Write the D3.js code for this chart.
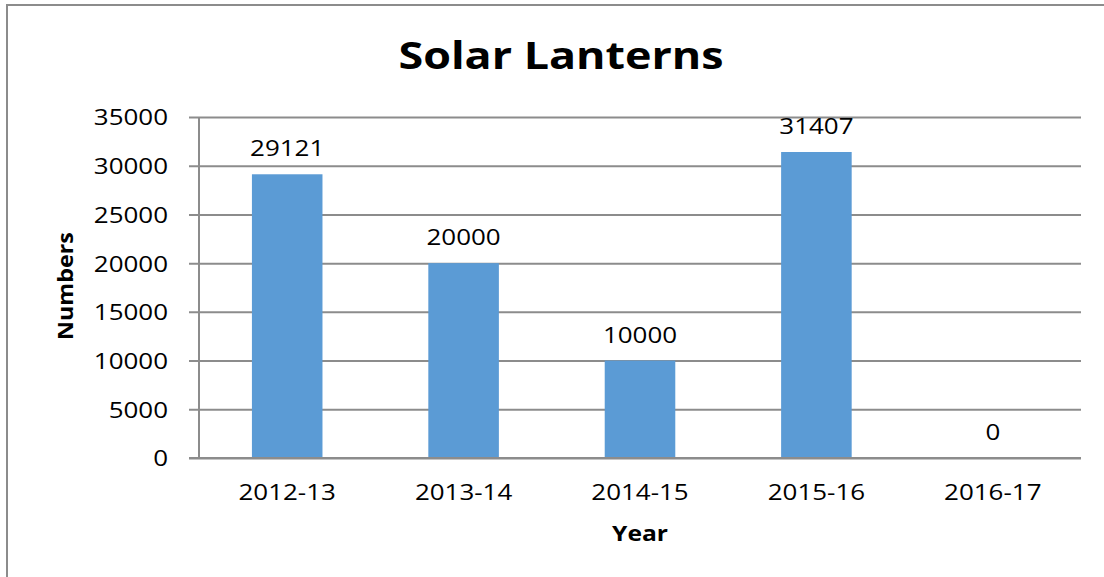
<!DOCTYPE html>
<html>
<head>
<meta charset="utf-8">
<script src="https://cdn.jsdelivr.net/npm/d3@7"></script>
<style>
  html, body { margin: 0; padding: 0; background: #fff; }
  svg { display: block; }
  text { font-family: "Open Sans", "DejaVu Sans", sans-serif; fill: #000; }
</style>
</head>
<body>
<svg id="chart" width="1104" height="577"></svg>
<script>
// Solar lanterns distributed per year
const years = ["2012-13", "2013-14", "2014-15", "2015-16", "2016-17"];
const lanterns = [29121, 20000, 10000, 31407, 0];
const yTicks = [0, 5000, 10000, 15000, 20000, 25000, 30000, 35000];

const W = 1104, H = 577;
const plot = { left: 199, right: 1081, top: 117, bottom: 458 };
const WIDE = 1.18; // horizontal stretch applied to the lettering
const svg = d3.select("#chart");

// outer chart frame (runs off the right and bottom edges)
svg.append("rect")
  .attr("x", 7).attr("y", 5)
  .attr("width", W + 20).attr("height", H + 20)
  .attr("fill", "#fff")
  .attr("stroke", "#8c8c8c").attr("stroke-width", 2);

const x = d3.scaleBand().domain(years).range([plot.left, plot.right]).paddingInner(0.6).paddingOuter(0.3);
const y = d3.scaleLinear().domain([0, 35000]).range([plot.bottom, plot.top]);

// horizontal gridlines with left ticks
const yAxis = d3.axisLeft(y).tickValues(yTicks).tickFormat(d3.format("d"))
  .tickSize(-(plot.right - plot.left));
const gy = svg.append("g").attr("transform", `translate(${plot.left},0)`).call(yAxis);
gy.select(".domain").remove();
gy.selectAll(".tick line")
  .attr("x1", -10)
  .attr("stroke", "#8c8c8c").attr("stroke-width", 2);
gy.selectAll(".tick text")
  .attr("font-size", 22).attr("x", 0).attr("dy", "0.36em")
  .attr("text-anchor", "end")
  .attr("transform", `translate(-31,0) scale(${WIDE},1)`);

// vertical axis line
svg.append("line")
  .attr("x1", plot.left).attr("x2", plot.left)
  .attr("y1", plot.top).attr("y2", plot.bottom)
  .attr("stroke", "#8c8c8c").attr("stroke-width", 2);

// category axis
const xAxis = d3.axisBottom(x).tickSize(0).tickPadding(0);
const gx = svg.append("g").attr("transform", `translate(0,${plot.bottom})`).call(xAxis);
gx.select(".domain").remove();
gx.selectAll(".tick text")
  .attr("font-size", 22).attr("y", 0).attr("dy", 0)
  .attr("transform", `translate(0,42) scale(${WIDE},1)`);

// bars
svg.append("g").selectAll("rect")
  .data(lanterns)
  .join("rect")
  .attr("x", (d, i) => x(years[i]))
  .attr("width", x.bandwidth())
  .attr("y", d => y(d))
  .attr("height", d => y(0) - y(d))
  .attr("fill", "#5b9bd5");

// baseline drawn over the bars
svg.append("line")
  .attr("x1", plot.left - 10).attr("x2", plot.right)
  .attr("y1", plot.bottom).attr("y2", plot.bottom)
  .attr("stroke", "#8c8c8c").attr("stroke-width", 2);

// value labels
svg.append("g").selectAll("text")
  .data(lanterns)
  .join("text")
  .attr("transform", (d, i) => `translate(${x(years[i]) + x.bandwidth() / 2},${y(d) - 18}) scale(${WIDE},1)`)
  .attr("text-anchor", "middle")
  .attr("font-size", 22)
  .text(d => d);

// title
svg.append("text")
  .attr("transform", `translate(561,69) scale(${WIDE},1)`)
  .attr("text-anchor", "middle")
  .attr("font-size", 38).attr("font-weight", "bold")
  .text("Solar Lanterns");

// axis titles
svg.append("text")
  .attr("transform", `translate(73,286) rotate(-90) scale(1.06,1)`)
  .attr("text-anchor", "middle")
  .attr("font-size", 22).attr("font-weight", "bold")
  .text("Numbers");

svg.append("text")
  .attr("transform", `translate(640,541) scale(1.12,1)`)
  .attr("text-anchor", "middle")
  .attr("font-size", 22).attr("font-weight", "bold")
  .text("Year");
</script>
</body>
</html>
